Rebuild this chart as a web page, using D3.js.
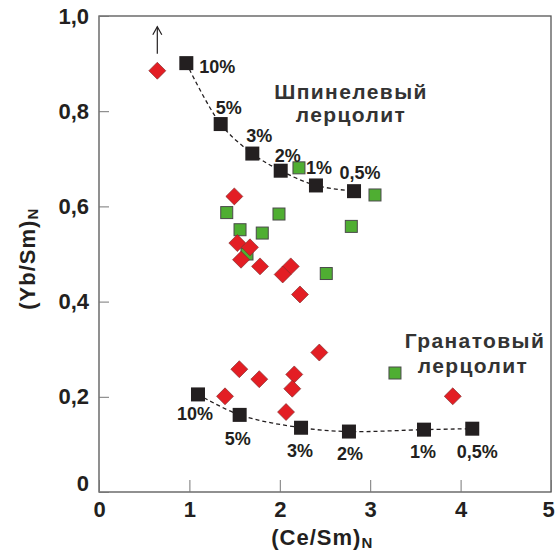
<!DOCTYPE html>
<html>
<head>
<meta charset="utf-8">
<script src="https://cdn.jsdelivr.net/npm/d3@7"></script>
<style>
  body { margin: 0; background: #fff; }
  text { font-family: "Liberation Sans", Arial, sans-serif; fill: #231f20; }
  .tick-label { font-size: 22px; font-weight: bold; }
  .axis-label { font-size: 22px; font-weight: bold; letter-spacing: 1px; }
  .pct { font-size: 18px; font-weight: bold; }
  .rock { font-size: 21px; font-weight: bold; letter-spacing: 1.4px; fill: #333; }
</style>
</head>
<body>
<div id="chart"></div>
<script>

// Melting curves (model), % of melting
var spinelPct = ["10%", "5%", "3%", "2%", "1%", "0,5%"];
var spinelX = [0.966, 1.346, 1.696, 2.010, 2.400, 2.821];
var spinelY = [0.901, 0.773, 0.711, 0.675, 0.644, 0.632];

var garnetPct = ["10%", "5%", "3%", "2%", "1%", "0,5%"];
var garnetX = [1.095, 1.556, 2.235, 2.765, 3.595, 4.129];
var garnetY = [0.205, 0.162, 0.135, 0.127, 0.131, 0.133];

// Green squares
var greenX = [2.212, 3.053, 1.413, 1.991, 1.560, 1.806, 2.791, 1.637, 2.514, 3.274];
var greenY = [0.681, 0.624, 0.587, 0.584, 0.551, 0.544, 0.558, 0.500, 0.459, 0.250];

// Red diamonds
var redX = [0.645, 1.497, 1.530, 1.670, 1.571, 1.781, 2.121, 2.032, 2.223,
            1.552, 1.773, 2.160, 2.138, 1.394, 2.069, 2.437, 3.913];
var redY = [0.885, 0.621, 0.523, 0.514, 0.488, 0.474, 0.474, 0.457, 0.415,
            0.258, 0.237, 0.247, 0.217, 0.201, 0.168, 0.293, 0.201];

var xTicks = [0, 1, 2, 3, 4, 5];
var yTicks = [0, 0.2, 0.4, 0.6, 0.8, 1.0];
var yTickLabels = ["0", "0,2", "0,4", "0,6", "0,8", "1,0"];

// label offsets (px) from each model point
var spinelLabelOff = [[13, 10, "start"], [8, -10, "middle"], [7, -12, "middle"],
                      [7, -9, "middle"], [3, -11, "middle"], [6, -12, "middle"]];
var garnetLabelOff = [[-3, 26, "middle"], [-2, 30, "middle"], [-1, 29, "middle"],
                      [1, 28, "middle"], [-1, 28, "middle"], [5, 29, "middle"]];

var margin = { top: 16, right: 4, bottom: 62, left: 99 };
var width = 555 - margin.left - margin.right;
var height = 554 - margin.top - margin.bottom;

var svg = d3.select("#chart").append("svg")
  .attr("width", 555)
  .attr("height", 554)
  .append("g")
  .attr("transform", "translate(" + margin.left + "," + margin.top + ")");

var x = d3.scaleLinear().domain([0, 5]).range([0, width]);
var y = d3.scaleLinear().domain([0, 1]).range([height, 0]);

function zip(xs, ys) {
  return xs.map(function(d, i){ return { x: d, y: ys[i] }; });
}

// frame
svg.append("rect")
  .attr("width", width)
  .attr("height", height)
  .attr("fill", "none")
  .attr("stroke", "#555")
  .attr("stroke-width", 1.3);

// axes, ticks pointing inward
var xAxis = d3.axisBottom(x).tickValues(xTicks).tickSizeInner(-12).tickSizeOuter(0)
  .tickPadding(9).tickFormat(d3.format("d"));
var yAxis = d3.axisLeft(y).tickValues(yTicks).tickSizeInner(-10).tickSizeOuter(0)
  .tickPadding(10).tickFormat(function(d, i){ return yTickLabels[i]; });

var gx = svg.append("g")
  .attr("transform", "translate(0," + height + ")")
  .call(xAxis);
var gy = svg.append("g").call(yAxis);

[gx, gy].forEach(function(g){
  g.select(".domain").remove();
  g.selectAll(".tick line").attr("stroke", "#777").attr("stroke-width", 1);
  g.selectAll(".tick text").attr("class", "tick-label").attr("font-family", null).attr("font-size", null);
});
gx.select(".tick:last-of-type text").attr("dx", "-3");
gy.select(".tick:first-of-type text").attr("dy", "-0.05em");

// axis titles
var xt = svg.append("text")
  .attr("class", "axis-label")
  .attr("text-anchor", "middle")
  .attr("x", x(2.47))
  .attr("y", height + 53);
xt.append("tspan").text("(Ce/Sm)");
xt.append("tspan").attr("font-size", "15px").attr("dy", "3").text("N");

var yt = svg.append("text")
  .attr("class", "axis-label")
  .attr("text-anchor", "middle")
  .attr("transform", "translate(-64," + y(0.49) + ")rotate(-90)");
yt.append("tspan").text("(Yb/Sm)");
yt.append("tspan").attr("font-size", "15px").attr("dy", "3").text("N");

// dashed model curves
var line = d3.line()
  .x(function(d){ return x(d.x); })
  .y(function(d){ return y(d.y); })
  .curve(d3.curveCatmullRom.alpha(0.5));

[zip(spinelX, spinelY), zip(garnetX, garnetY)].forEach(function(pts){
  svg.append("path")
    .datum(pts)
    .attr("d", line)
    .attr("fill", "none")
    .attr("stroke", "#231f20")
    .attr("stroke-width", 1.3)
    .attr("stroke-dasharray", "4,3");
});

// green squares
svg.selectAll(".green").data(zip(greenX, greenY)).enter().append("rect")
  .attr("class", "green")
  .attr("x", function(d){ return x(d.x) - 6; })
  .attr("y", function(d){ return y(d.y) - 6; })
  .attr("width", 12)
  .attr("height", 12)
  .attr("fill", "#4fae32")
  .attr("stroke", "#4a4a4a")
  .attr("stroke-width", 1);

// red diamonds
svg.selectAll(".red").data(zip(redX, redY)).enter().append("rect")
  .attr("class", "red")
  .attr("x", -6)
  .attr("y", -6)
  .attr("width", 12)
  .attr("height", 12)
  .attr("transform", function(d){ return "translate(" + x(d.x) + "," + y(d.y) + ")rotate(45)"; })
  .attr("fill", "#e31e24")
  .attr("stroke", "#7a2a2a")
  .attr("stroke-width", 0.6);

// black model squares + labels
function model(xs, ys, pcts, offs) {
  var pts = zip(xs, ys);
  svg.selectAll(null).data(pts).enter().append("rect")
    .attr("x", function(d){ return x(d.x) - 7; })
    .attr("y", function(d){ return y(d.y) - 7; })
    .attr("width", 14)
    .attr("height", 14)
    .attr("fill", "#231f20");

  svg.selectAll(null).data(pts).enter().append("text")
    .attr("class", "pct")
    .attr("x", function(d, i){ return x(d.x) + offs[i][0]; })
    .attr("y", function(d, i){ return y(d.y) + offs[i][1]; })
    .attr("text-anchor", function(d, i){ return offs[i][2]; })
    .text(function(d, i){ return pcts[i]; });
}
model(spinelX, spinelY, spinelPct, spinelLabelOff);
model(garnetX, garnetY, garnetPct, garnetLabelOff);

// arrow above the off-scale point
var ax = x(redX[0]);
svg.append("line")
  .attr("x1", ax).attr("x2", ax)
  .attr("y1", y(redY[0]) - 17).attr("y2", y(redY[0]) - 44)
  .attr("stroke", "#231f20").attr("stroke-width", 1.2);
svg.append("path")
  .attr("d", "M" + (ax - 4.5) + "," + (y(redY[0]) - 36) + "L" + ax + "," + (y(redY[0]) - 44) +
             "L" + (ax + 4.5) + "," + (y(redY[0]) - 36))
  .attr("fill", "none").attr("stroke", "#231f20").attr("stroke-width", 1.2);

// rock type captions
svg.append("text").attr("class", "rock").attr("text-anchor", "middle")
  .attr("x", 351 - margin.left).attr("y", 99 - margin.top).text("Шпинелевый");
svg.append("text").attr("class", "rock").attr("text-anchor", "middle")
  .attr("x", 351 - margin.left).attr("y", 122 - margin.top).text("лерцолит");
svg.append("text").attr("class", "rock").attr("text-anchor", "middle")
  .attr("x", 475 - margin.left).attr("y", 348 - margin.top).text("Гранатовый");
svg.append("text").attr("class", "rock").attr("text-anchor", "middle")
  .attr("x", 473 - margin.left).attr("y", 373 - margin.top).text("лерцолит");

</script>
</body>
</html>
